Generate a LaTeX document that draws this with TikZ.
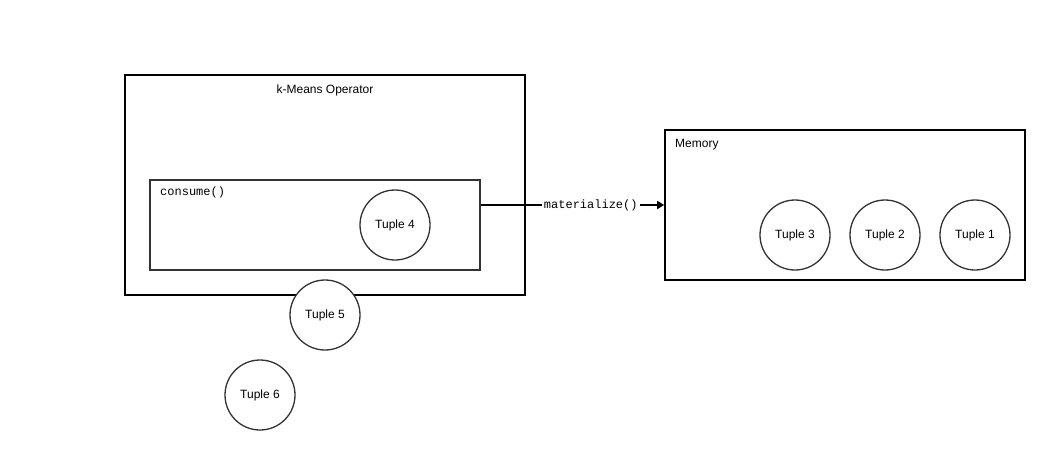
\documentclass[tikz,border=0pt]{standalone}
\usepackage{fontspec}
\setmainfont{Liberation Sans}
\setmonofont{Liberation Mono}
\usetikzlibrary{arrows.meta}
\definecolor{edgegray}{HTML}{333333}

\begin{document}
\begin{tikzpicture}[x=1pt, y=-1pt]
    \tikzset{box/.style={draw, line width=1.6pt, inner sep=0pt},
      innerbox/.style={draw=edgegray, line width=1.4pt, inner sep=0pt},
      tuple/.style={circle, draw=edgegray, fill=white, line width=1.3pt,
        minimum size=70pt, inner sep=0pt, font=\fontsize{12}{14}\selectfont},
      txt/.style={font=\fontsize{12}{14}\selectfont, inner sep=0pt},
      code/.style={font=\ttfamily\fontsize{12}{14}\selectfont, inner sep=0pt},
      flow/.style={line width=1.6pt, -{Triangle[length=7pt, width=8pt]}}
    }
    \useasboundingbox (0,0) rectangle (1050,450);

    % operator side
    \node[box, minimum width=400pt, minimum height=220pt] (op) at (325,185) {};
    \node[txt] (opname) at (325,90) {k-Means Operator};
    \node[innerbox, minimum width=330pt, minimum height=90pt] (consume) at (315,225) {};
    \node[code, anchor=west] (consumename) at (160,192) {consume()};
    \node[tuple] (t4) at (395,225) {Tuple 4};
    \node[tuple] (t5) at (325,315) {Tuple 5};
    \node[tuple] (t6) at (260,395) {Tuple 6};

    % memory side
    \node[box, minimum width=360pt, minimum height=150pt] (mem) at (845,205) {};
    \node[txt, anchor=west] (memname) at (675,145) {Memory};
    \node[tuple] (t3) at (795,235) {Tuple 3};
    \node[tuple] (t2) at (885,235) {Tuple 2};
    \node[tuple] (t1) at (975,235) {Tuple 1};

    \coordinate (out) at ([yshift=20pt]consume.east);
    \draw[flow] (out) -- node[code, pos=0.6, fill=white, inner sep=2pt] (mat) {materialize()} (mem.west);
\end{tikzpicture}
\end{document}
